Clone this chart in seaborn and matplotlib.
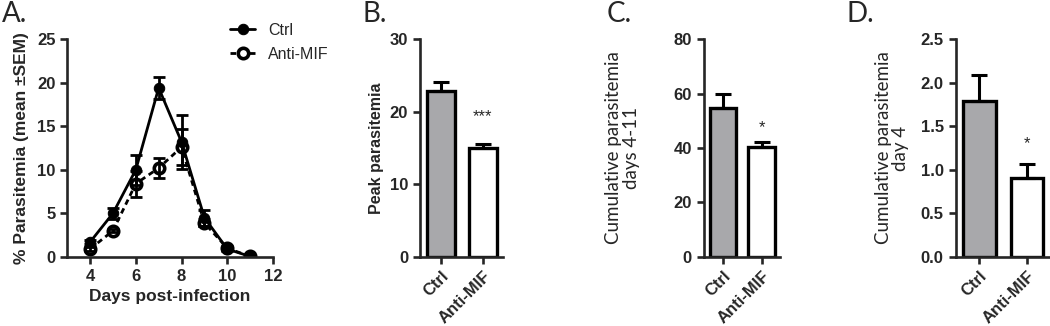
import numpy as np
import pandas as pd
import matplotlib
matplotlib.use('Agg')
import matplotlib.pyplot as plt
import seaborn as sns

# panel A: time course (mean, SEM)
days = [4, 5, 6, 7, 8, 9, 10, 11]
ctrl_mean = [1.7, 5.0, 10.0, 19.4, 13.2, 4.5, 0.9, 0.05]
ctrl_sem = [0.2, 0.6, 1.7, 1.3, 3.1, 0.9, 0.2, 0.05]
mif_mean = [0.9, 3.0, 8.4, 10.2, 12.6, 3.9, 1.0, 0.05]
mif_sem = [0.2, 0.2, 1.5, 1.2, 2.1, 0.4, 0.2, 0.05]

# panels B-D: bar summaries
groups = ['Ctrl', 'Anti-MIF']
peak_mean = [22.8, 15.0]
peak_sem = [1.3, 0.6]
cum_mean = [54.8, 40.3]
cum_sem = [5.2, 2.0]
day4_mean = [1.79, 0.90]
day4_sem = [0.30, 0.17]

sns.set_style('ticks')
plt.rcParams['font.family'] = ['Liberation Sans', 'DejaVu Sans']
plt.rcParams['axes.linewidth'] = 1.9
plt.rcParams['xtick.major.width'] = 1.9
plt.rcParams['ytick.major.width'] = 1.9
plt.rcParams['xtick.major.size'] = 5
plt.rcParams['ytick.major.size'] = 5

fig = plt.figure(figsize=(10.5, 3.26), dpi=100)

def style_ticks(ax):
	for lab in ax.get_xticklabels() + ax.get_yticklabels():
		lab.set_fontweight('bold')
		lab.set_fontsize(12)
	sns.despine(ax=ax)

# ---- A ----
ax1 = fig.add_axes([0.064, 0.212, 0.196, 0.668])
sns.lineplot(x=days, y=mif_mean, ax=ax1, color='black', lw=2, linestyle=(0, (2, 1.5)),
						 marker='o', markersize=7.5, markerfacecolor='white', markeredgecolor='black',
						 markeredgewidth=2.6, label='Anti-MIF')
sns.lineplot(x=days, y=ctrl_mean, ax=ax1, color='black', lw=2, marker='o',
						 markersize=7.5, markeredgecolor='black', label='Ctrl')
ax1.errorbar(days, ctrl_mean, yerr=ctrl_sem, fmt='none', ecolor='black', elinewidth=2,
						 capsize=4, capthick=2)
ax1.errorbar(days, mif_mean, yerr=mif_sem, fmt='none', ecolor='black', elinewidth=2,
						 capsize=4, capthick=2)
ax1.set_xlim(3, 12)
ax1.set_ylim(0, 25)
ax1.set_xticks([4, 6, 8, 10, 12])
ax1.set_yticks([0, 5, 10, 15, 20, 25])
ax1.set_xlabel('Days post-infection', fontsize=12.5, fontweight='bold')
ax1.set_ylabel('% Parasitemia (mean \u00b1SEM)', fontsize=12.5, fontweight='bold', labelpad=6)
handles, labels = ax1.get_legend_handles_labels()
leg = ax1.legend(handles[::-1], labels[::-1], loc='upper left', bbox_to_anchor=(0.72, 1.14),
								 frameon=False, fontsize=11.5, handlelength=1.6, handletextpad=0.8,
								 labelspacing=0.55)
style_ticks(ax1)

# ---- B, C, D ----
bar_colors = ['#a7a7ab', 'white']

def bar_panel(rect, means, sems, ylim, yticks, ylabel, star, star_y, bold_label, pad,
							tick_fmt=None):
	ax = fig.add_axes(rect)
	sns.barplot(x=groups, y=means, hue=groups, palette=bar_colors, legend=False, ax=ax,
							edgecolor='black', linewidth=2.4, width=0.68)
	ax.errorbar([0, 1], means, yerr=[[0, 0], sems], fmt='none', ecolor='black',
							elinewidth=2.2, capsize=6, capthick=2.2)
	ax.set_xlim(-0.5, 1.48)
	ax.set_ylim(*ylim)
	ax.set_yticks(yticks)
	if tick_fmt:
		ax.set_yticklabels([tick_fmt.format(t) for t in yticks])
	ax.set_xticks([0, 1])
	ax.set_xticklabels(groups, rotation=45, ha='right', rotation_mode='anchor')
	if bold_label:
		ax.set_ylabel(ylabel, fontsize=11.5, fontweight='bold', labelpad=pad)
	else:
		ax.set_ylabel(ylabel, fontsize=13.5, family=['Lato', 'DejaVu Sans'], linespacing=1.05,
									labelpad=pad)
	ax.text(1, star_y, star, ha='center', va='center', fontsize=12)
	style_ticks(ax)
	return ax

bar_panel([0.400, 0.212, 0.079, 0.668], peak_mean, peak_sem, (0, 30), [0, 10, 20, 30],
					'Peak parasitemia', '***', 19.3, True, 4)
bar_panel([0.670, 0.212, 0.073, 0.668], cum_mean, cum_sem, (0, 80), [0, 20, 40, 60, 80],
					'Cumulative parasitemia\ndays 4-11', '*', 47.5, False, 24)
bar_panel([0.910, 0.212, 0.090, 0.668], day4_mean, day4_sem, (0, 2.5),
					[0, 0.5, 1.0, 1.5, 2.0, 2.5], 'Cumulative parasitemia\nday 4', '*', 1.30, False, 8,
					tick_fmt='{:.1f}')

# panel letters
for x, letter in zip([0.002, 0.345, 0.578, 0.806], ['A.', 'B.', 'C.', 'D.']):
	fig.text(x, 0.998, letter, fontsize=20, va='top', ha='left', family=['Lato', 'DejaVu Sans'])

fig.savefig('out.png', dpi=100)
